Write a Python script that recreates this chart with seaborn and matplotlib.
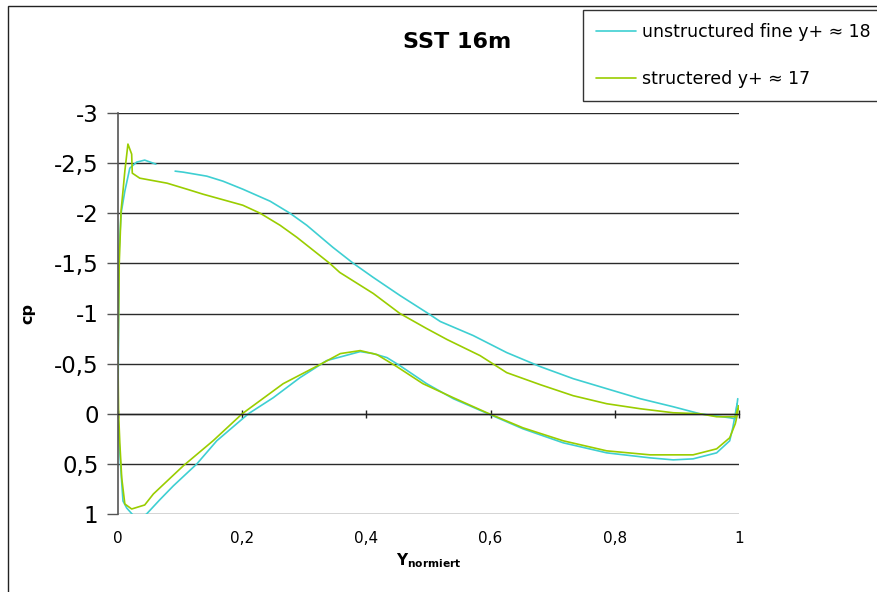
import numpy as np
import pandas as pd
import matplotlib
matplotlib.use("Agg")
import matplotlib.pyplot as plt
from matplotlib.patches import Rectangle
import seaborn as sns

# Pressure coefficient distribution around the profile (suction side from the
# trailing edge to the leading edge, then pressure side back to the trailing edge).
# np.nan marks a break in the measured line.
unstructured_x = [0.998, 0.994, 0.985, 0.937, 0.894, 0.841, 0.787, 0.733, 0.680, 0.626,
                  0.572, 0.519, 0.497, 0.454, 0.411, 0.379, 0.346, 0.304, 0.277, 0.245,
                  0.201, 0.169, 0.143, 0.105, 0.092, np.nan, 0.061, 0.043, 0.030, 0.019,
                  0.011, 0.005, 0.002, 0.001, 0.000, 0.001, 0.004, 0.008, 0.014, 0.024,
                  0.035, 0.046, 0.067, 0.089, 0.127, 0.159, 0.210, 0.250, 0.293, 0.336,
                  0.390, 0.411, 0.433, 0.454, 0.497, 0.540, 0.596, 0.652, 0.717, 0.787,
                  0.857, 0.894, 0.926, 0.964, 0.985, 0.990, 0.997]
unstructured_cp = [-0.15, 0.05, 0.04, 0.00, -0.07, -0.15, -0.25, -0.35, -0.47, -0.61,
                   -0.78, -0.92, -1.01, -1.18, -1.36, -1.50, -1.66, -1.88, -2.00, -2.12,
                   -2.24, -2.32, -2.37, -2.41, -2.42, np.nan, -2.49, -2.53, -2.51, -2.45,
                   -2.22, -2.00, -1.65, -1.00, 0.00, 0.20, 0.50, 0.87, 0.94, 1.01,
                   1.05, 1.00, 0.86, 0.72, 0.50, 0.27, 0.00, -0.16, -0.36, -0.53,
                   -0.62, -0.60, -0.56, -0.48, -0.30, -0.15, 0.00, 0.15, 0.29, 0.39,
                   0.44, 0.46, 0.45, 0.39, 0.27, 0.14, -0.10]

structured_x = [0.998, 0.994, 0.964, 0.937, 0.894, 0.841, 0.787, 0.733, 0.680, 0.626,
                0.583, 0.530, 0.497, 0.454, 0.411, 0.357, 0.341, 0.288, 0.261, 0.229,
                0.201, 0.137, 0.111, 0.079, 0.035, 0.023, 0.022, 0.016, 0.011, 0.008,
                0.005, 0.002, 0.000, 0.001, 0.003, 0.006, 0.011, 0.022, 0.043, 0.057,
                0.105, 0.153, 0.200, 0.266, 0.325, 0.358, 0.390, 0.417, 0.449, 0.491,
                0.540, 0.594, 0.652, 0.717, 0.787, 0.857, 0.926, 0.964, 0.985, 0.994,
                0.997, 0.999]
structured_cp = [-0.05, 0.03, 0.03, 0.00, -0.01, -0.05, -0.10, -0.18, -0.29, -0.41,
                 -0.58, -0.74, -0.85, -1.00, -1.20, -1.41, -1.50, -1.76, -1.88, -2.00,
                 -2.08, -2.19, -2.24, -2.30, -2.35, -2.40, -2.59, -2.69, -2.42, -2.22,
                 -2.03, -1.50, -0.50, 0.00, 0.30, 0.64, 0.90, 0.95, 0.91, 0.80,
                 0.52, 0.27, 0.00, -0.30, -0.49, -0.60, -0.63, -0.59, -0.47, -0.30,
                 -0.16, -0.01, 0.14, 0.27, 0.37, 0.41, 0.41, 0.35, 0.24, 0.10,
                 0.02, -0.08]

series_names = ["unstructured fine y+ \u2248 18", "structered y+ \u2248 17"]
series_colors = ["#3ECFD2", "#9ACD00"]

y_ticks = [-3, -2.5, -2, -1.5, -1, -0.5, 0, 0.5, 1]
y_tick_labels = ["-3", "-2,5", "-2", "-1,5", "-1", "-0,5", "0", "0,5", "1"]
x_ticks = [0, 0.2, 0.4, 0.6, 0.8, 1]
x_tick_labels = ["0", "0,2", "0,4", "0,6", "0,8", "1"]

title_text = "SST 16m"
y_label = "cp"
x_label = r"$\mathbf{Y}_{\mathbf{normiert}}$"


def to_frame(xs, cps, name):
    df = pd.DataFrame({"x": xs, "cp": cps})
    df["segment"] = df["cp"].isna().cumsum()
    df = df.dropna()
    df["series"] = name
    return df


data = pd.concat([
    to_frame(unstructured_x, unstructured_cp, series_names[0]),
    to_frame(structured_x, structured_cp, series_names[1]),
], ignore_index=True)
data["unit"] = data["series"] + "_" + data["segment"].astype(str)

sns.set_theme(style="white")
plt.rcParams["font.family"] = ["DejaVu Sans"]
plt.rcParams["mathtext.fontset"] = "dejavusans"
plt.rcParams["text.color"] = "black"
plt.rcParams["axes.labelcolor"] = "black"
plt.rcParams["xtick.color"] = "black"
plt.rcParams["ytick.color"] = "black"

W, H = 877, 592
fig = plt.figure(figsize=(W / 100, H / 100), dpi=100)
fig.patch.set_facecolor("white")
ax = fig.add_axes([118 / W, 1 - 514 / H, (739 - 118) / W, (514 - 113) / H])
ax.set_facecolor("white")

sns.lineplot(data=data, x="x", y="cp", hue="series", hue_order=series_names,
             palette=series_colors, units="unit", estimator=None, sort=False,
             linewidth=1.2, ax=ax, legend=True)

ax.set_xlim(0, 1)
ax.set_ylim(1, -3)

# horizontal gridlines
ax.set_yticks(y_ticks)
ax.set_yticklabels(y_tick_labels, fontsize=16.5)
ax.yaxis.grid(True, color="#2a2a2a", linewidth=1.0)
ax.xaxis.grid(False)
ax.set_axisbelow(True)
ax.tick_params(axis="y", which="both", left=True, direction="out", length=8,
               width=1, color="#555555", pad=6, labelcolor="black")

# the category axis crosses at cp = 0, labels sit below the plot
for side in ["top", "right"]:
    ax.spines[side].set_visible(False)
ax.spines["left"].set_color("#555555")
ax.spines["left"].set_linewidth(1.2)
ax.spines["bottom"].set_position(("data", 0))
ax.spines["bottom"].set_color("#222222")
ax.spines["bottom"].set_linewidth(1.0)
ax.set_xticks(x_ticks)
ax.tick_params(axis="x", which="both", bottom=True, direction="inout", length=6,
               width=1, color="#222222", labelbottom=False)

secax = ax.secondary_xaxis("bottom")
secax.set_xticks(x_ticks)
secax.set_xticklabels(x_tick_labels, fontsize=11)
secax.tick_params(axis="x", length=0, pad=12, labelcolor="black")
secax.spines["bottom"].set_visible(False)
secax.set_xlabel(x_label, fontsize=11, labelpad=4, color="black")

ax.set_xlabel("")
ax.set_ylabel("")
fig.text(28 / W, 1 - 313 / H, y_label, rotation=90, ha="center", va="center",
         fontsize=11.5, fontweight="bold", color="black")

fig.text(457 / W, 1 - 42 / H, title_text, ha="center", va="center",
         fontsize=16, fontweight="bold", color="black")

handles, labels = ax.get_legend_handles_labels()
if ax.get_legend() is not None:
    ax.get_legend().remove()
leg = fig.legend(handles, labels, loc="upper left",
                 bbox_to_anchor=(583 / W, 1 - 10 / H), fontsize=12.5,
                 frameon=True, fancybox=False, shadow=False, framealpha=1,
                 edgecolor="#333333", handlelength=2.3, handletextpad=0.35,
                 labelspacing=1.65, borderpad=0.75, borderaxespad=0)
leg.get_frame().set_linewidth(1.0)
for text in leg.get_texts():
    text.set_color("black")
for line in leg.get_lines():
    line.set_linewidth(1.2)

# chart area border
fig.patches.append(Rectangle((8 / W, -0.1), 1.2, 1.1 - 6 / H,
                             transform=fig.transFigure, fill=False,
                             edgecolor="#222222", linewidth=1.0))

fig.savefig("out.png", dpi=100)
